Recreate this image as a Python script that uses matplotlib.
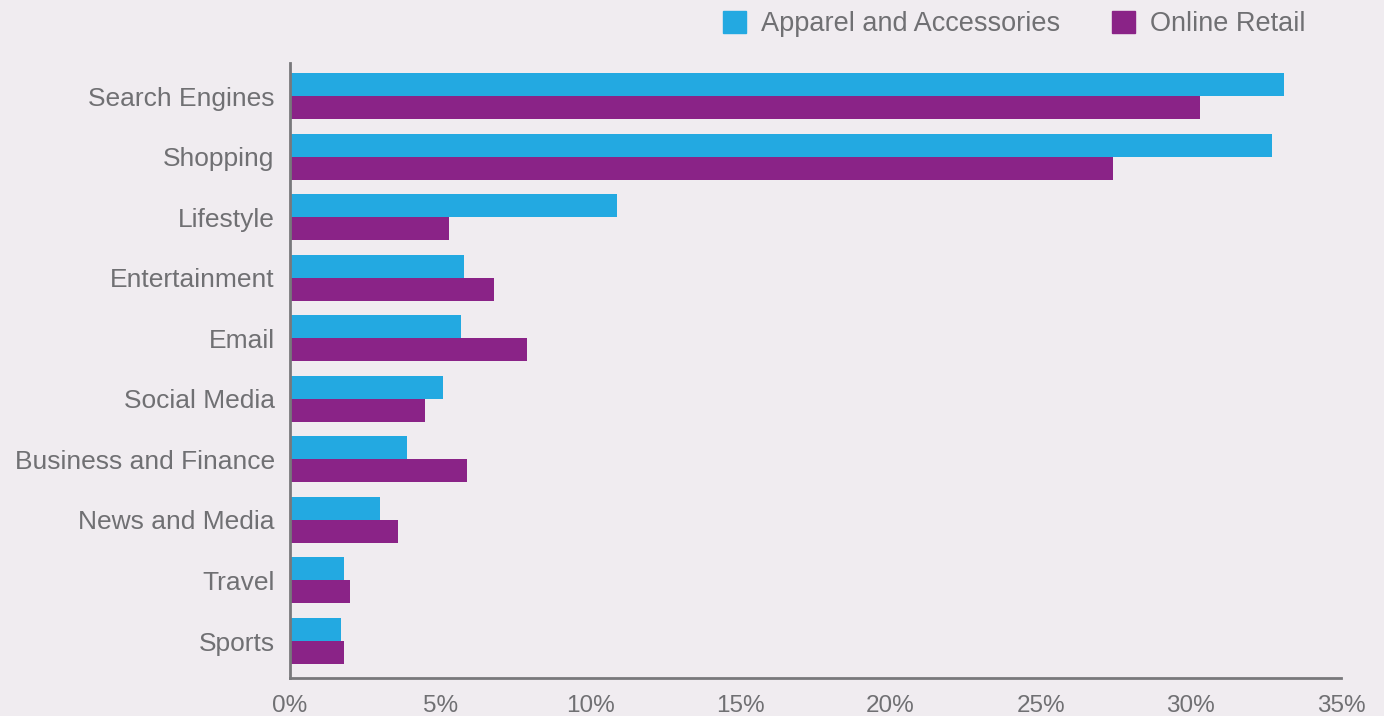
import numpy as np
import matplotlib
matplotlib.use('Agg')
import matplotlib.pyplot as plt
from matplotlib.patches import Patch

plt.rcParams['font.family'] = ['Liberation Sans', 'DejaVu Sans']

categories = ['Search Engines', 'Shopping', 'Lifestyle', 'Entertainment', 'Email',
              'Social Media', 'Business and Finance', 'News and Media', 'Travel', 'Sports']
apparel = [33.1, 32.7, 10.9, 5.8, 5.7, 5.1, 3.9, 3.0, 1.8, 1.7]
online = [30.3, 27.4, 5.3, 6.8, 7.9, 4.5, 5.9, 3.6, 2.0, 1.8]
xticks = [0, 5, 10, 15, 20, 25, 30, 35]

bg = '#F0ECF0'
c1, c2 = '#23A9E1', '#8A2387'
txt = '#707073'
axc = '#78787b'

fig = plt.figure(figsize=(13.84, 7.16), dpi=100, facecolor=bg)
ax = fig.add_axes([0.2095, 0.0531, 0.7595, 0.8589], facecolor=bg)

y = np.arange(len(categories))
h = 0.38
ax.barh(y - h / 2, apparel, height=h, color=c1, label='Apparel and Accessories')
ax.barh(y + h / 2, online, height=h, color=c2, label='Online Retail')

ax.set_ylim(9.61, -0.545)
ax.set_xlim(0, 35)
ax.set_yticks(y)
ax.set_yticklabels(categories, fontsize=19, color=txt)
ax.set_xticks(xticks)
ax.set_xticklabels([f'{t}%' for t in xticks], fontsize=17.5, color=txt)
ax.tick_params(axis='both', length=0)
ax.tick_params(axis='x', pad=12)
ax.tick_params(axis='y', pad=11)
for s in ['top', 'right']:
    ax.spines[s].set_visible(False)
for s in ['left', 'bottom']:
    ax.spines[s].set_color(axc)
    ax.spines[s].set_linewidth(2)

# legend across the top right
handles = [Patch(color=c1, label='Apparel and Accessories'),
           Patch(color=c2, label='Online Retail')]
fig.legend(handles=handles, loc='center right', bbox_to_anchor=(1305 / 1384, 1 - 24 / 716),
           ncol=2, frameon=False, fontsize=19.5, labelcolor=txt, handlelength=0.85,
           handleheight=0.85, handletextpad=0.55, columnspacing=1.9,
           borderpad=0, borderaxespad=0)

plt.savefig('out.png', dpi=100, facecolor=bg)
plt.close()
